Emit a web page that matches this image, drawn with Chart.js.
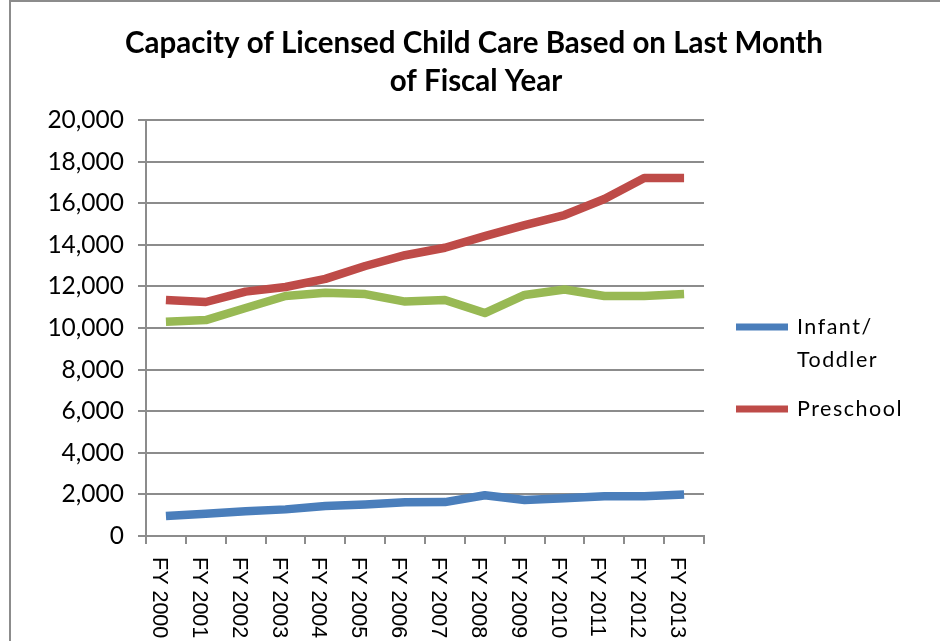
<!DOCTYPE html>
<html>
<head>
<meta charset="utf-8">
<title>Capacity of Licensed Child Care</title>
<script src="https://cdn.jsdelivr.net/npm/chart.js@4/dist/chart.umd.min.js"></script>
<style>
  html, body { margin: 0; padding: 0; background: #ffffff; }
  #wrap { position: relative; width: 940px; height: 641px; }
</style>
</head>
<body>
<div id="wrap"><canvas id="chart" width="940" height="641"></canvas></div>
<script>
// Fiscal years on the category axis
const categories = ['FY 2000', 'FY 2001', 'FY 2002', 'FY 2003', 'FY 2004', 'FY 2005', 'FY 2006',
                    'FY 2007', 'FY 2008', 'FY 2009', 'FY 2010', 'FY 2011', 'FY 2012', 'FY 2013'];

// Licensed capacity (slots) at the last month of each fiscal year
const infantToddler = [960, 1070, 1190, 1280, 1440, 1520, 1620, 1630, 1960, 1730, 1810, 1910, 1910, 2000];
const preschool     = [11350, 11250, 11750, 11970, 12360, 12980, 13500, 13860, 14420, 14950, 15430, 16200, 17210, 17210];
const schoolAge     = [10300, 10380, 10960, 11540, 11700, 11630, 11270, 11350, 10720, 11590, 11850, 11540, 11540, 11630];

const seriesNames  = ['Infant/\nToddler', 'Preschool', 'School Age'];
const legendSeries = [0, 1];   // series listed in the legend
const titleLines   = ['Capacity of Licensed Child Care Based on Last Month', 'of Fiscal Year'];

const COLORS = ['#4a7ebb', '#be4b48', '#98b954'];
const GRID = '#8c8c8c';

function lineSet(label, data, color) {
  return {
    label: label,
    data: data,
    borderColor: color,
    backgroundColor: color,
    borderWidth: 8.5,
    borderCapStyle: 'butt',
    borderJoinStyle: 'round',
    pointRadius: 0,
    pointHoverRadius: 0,
    tension: 0,
    fill: false
  };
}

// Outer frame of the chart object
const framePlugin = {
  id: 'frame',
  beforeDraw(chart) {
    const ctx = chart.ctx;
    ctx.save();
    ctx.fillStyle = '#ffffff';
    ctx.fillRect(0, 0, chart.width, chart.height);
    ctx.strokeStyle = GRID;
    ctx.lineWidth = 2;
    ctx.beginPath();
    ctx.moveTo(10, chart.height + 2);
    ctx.lineTo(10, 1);
    ctx.lineTo(chart.width + 2, 1);
    ctx.stroke();
    ctx.restore();
  }
};

// Two-line centred title
const titlePlugin = {
  id: 'twoLineTitle',
  afterDraw(chart) {
    const ctx = chart.ctx;
    ctx.save();
    ctx.fillStyle = '#000000';
    ctx.font = 'bold 29.5px Lato, "Open Sans", sans-serif';
    ctx.textAlign = 'center';
    ctx.textBaseline = 'alphabetic';
    ctx.fillText(titleLines[0], 474, 53);
    ctx.fillText(titleLines[1], 476, 91);
    ctx.restore();
  }
};

// Category labels turned a quarter clockwise, reading downward
const xLabelPlugin = {
  id: 'xLabels',
  afterDraw(chart) {
    const ctx = chart.ctx;
    const xs = chart.scales.x;
    const top = chart.chartArea.bottom + 21;
    ctx.save();
    ctx.fillStyle = '#000000';
    ctx.font = '21.5px "Liberation Sans", Arial, sans-serif';
    ctx.textAlign = 'left';
    ctx.textBaseline = 'middle';
    categories.forEach((lab, i) => {
      const x = xs.getPixelForValue(i) - 7;
      ctx.save();
      ctx.translate(x, top);
      ctx.rotate(Math.PI / 2);
      ctx.fillText(lab, 0, 0);
      ctx.restore();
    });
    ctx.restore();
  }
};

// Legend on the right with line swatches
const legendPlugin = {
  id: 'sideLegend',
  afterDraw(chart) {
    const ctx = chart.ctx;
    const rows = [327, 409];
    ctx.save();
    ctx.font = '21.5px Lato, "Open Sans", sans-serif';
    if ('letterSpacing' in ctx) ctx.letterSpacing = '1.5px';
    ctx.textAlign = 'left';
    ctx.textBaseline = 'middle';
    legendSeries.forEach((si, k) => {
      const ds = chart.data.datasets[si];
      const y = rows[k];
      ctx.strokeStyle = ds.borderColor;
      ctx.lineWidth = 7;
      ctx.lineCap = 'butt';
      ctx.beginPath();
      ctx.moveTo(736, y);
      ctx.lineTo(788, y);
      ctx.stroke();
      ctx.fillStyle = '#000000';
      seriesNames[si].split('\n').forEach((t, j) => {
        ctx.fillText(t, 797, y + j * 33);
      });
    });
    ctx.restore();
  }
};

new Chart(document.getElementById('chart'), {
  type: 'line',
  data: {
    labels: categories,
    datasets: [
      lineSet(seriesNames[0], infantToddler, COLORS[0]),
      lineSet(seriesNames[1], preschool, COLORS[1]),
      lineSet(seriesNames[2], schoolAge, COLORS[2])
    ]
  },
  options: {
    responsive: false,
    animation: false,
    events: [],
    layout: { padding: { top: 120, right: 236, bottom: 0, left: 0 } },
    plugins: {
      legend: { display: false },
      title: { display: false },
      tooltip: { enabled: false }
    },
    scales: {
      x: {
        type: 'category',
        offset: true,
        grid: {
          offset: true,
          drawOnChartArea: false,
          drawTicks: true,
          tickLength: 8,
          color: GRID,
          lineWidth: 2
        },
        border: { display: true, color: GRID, width: 2 },
        ticks: { display: false },
        afterFit(scale) { scale.height = 105; }
      },
      y: {
        min: 0,
        max: 20000,
        ticks: {
          stepSize: 2000,
          padding: 14,
          color: '#000000',
          font: { family: 'Lato, "Open Sans", sans-serif', size: 24.5 },
          callback: v => v.toLocaleString('en-US')
        },
        grid: {
          color: GRID,
          lineWidth: 2,
          tickLength: 8,
          drawTicks: true
        },
        border: { display: true, color: GRID, width: 2 },
        afterFit(scale) { scale.width = 146; }
      }
    }
  },
  plugins: [framePlugin, titlePlugin, xLabelPlugin, legendPlugin]
});
</script>
</body>
</html>
